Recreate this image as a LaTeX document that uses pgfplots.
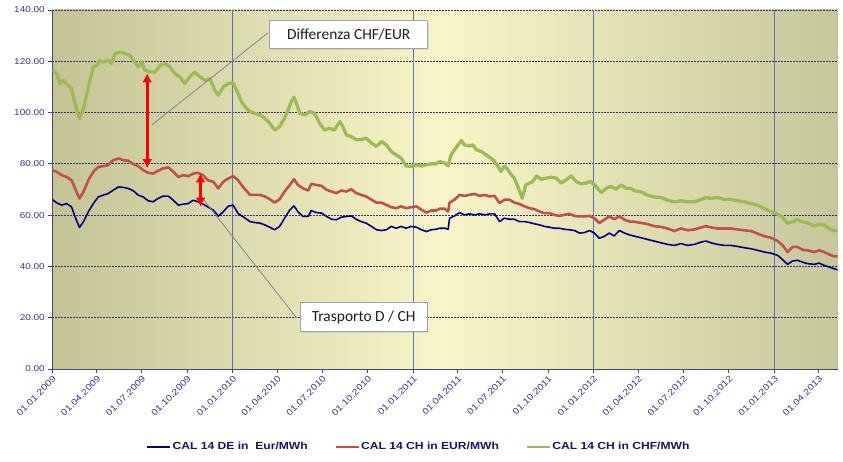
\documentclass[border=0pt]{standalone}
\usepackage{pgfplots}
\pgfplotsset{compat=1.18}
\usepackage{fontspec}
\setmainfont{Liberation Sans}[FakeStretch=1.18]
\newfontfamily\calloutfont{Carlito}
\usetikzlibrary{arrows.meta,shadows}
\definecolor{tickblue}{RGB}{51,51,153}
\definecolor{legblue}{RGB}{20,20,110}
\definecolor{deblue}{RGB}{0,0,128}
\definecolor{chred}{RGB}{192,80,77}
\definecolor{chgreen}{RGB}{155,187,89}
\definecolor{bgdark}{RGB}{196,195,150}
\definecolor{bglight}{RGB}{248,246,200}
\definecolor{bgright}{RGB}{198,198,155}
\definecolor{gridh}{RGB}{50,50,110}
\definecolor{gridv}{RGB}{85,115,190}
\definecolor{axiscol}{RGB}{70,70,120}
\definecolor{boxborder}{RGB}{150,165,190}
\definecolor{leadline}{RGB}{120,135,155}

\pgfplotstableread{
day val
0 66.1
9 64.8
19 63.9
29 64.5
39 63.2
46 59.4
55 55.2
63 57.4
73 61.3
83 64.5
93 67.1
103 67.8
113 68.4
123 69.7
134 71.0
144 70.8
154 70.4
164 69.5
174 67.8
184 67.1
194 65.6
204 65.2
214 66.5
224 67.4
235 67.4
245 65.8
255 63.9
265 64.3
275 64.5
285 65.8
295 65.2
305 64.3
315 63.2
326 61.9
336 59.6
346 61.3
356 63.5
366 63.9
376 60.6
386 59.4
400 57.5
410 57.1
420 56.9
430 56.2
440 55.3
450 54.3
460 55.6
470 58.8
481 62.1
489 63.6
497 61.4
507 59.5
518 59.5
524 61.8
534 61.0
545 60.8
555 59.5
565 58.4
575 58.2
585 59.2
595 59.5
605 59.7
615 58.4
625 57.5
635 56.9
646 55.6
656 54.3
666 54.0
676 54.3
686 55.6
696 54.9
706 55.6
716 54.9
726 55.6
737 55.3
747 54.3
757 53.6
767 54.3
777 54.5
784 54.9
794 54.9
801 54.5
804 58.8
814 59.7
824 61.0
834 60.1
844 60.5
854 60.1
865 60.5
875 60.1
885 60.5
895 60.5
905 57.5
915 58.8
925 58.4
935 58.4
945 57.5
956 57.5
966 57.1
976 56.6
986 56.2
996 55.6
1006 55.3
1016 54.9
1026 54.9
1036 54.5
1046 54.3
1057 54.0
1067 53.0
1077 53.2
1087 54.0
1097 53.0
1107 51.0
1117 51.7
1127 53.0
1137 51.9
1148 54.0
1158 53.0
1168 52.3
1178 51.8
1191 51.2
1205 50.5
1218 49.9
1232 49.2
1245 48.6
1259 48.2
1272 48.9
1286 48.2
1299 48.6
1313 49.5
1323 49.9
1333 49.2
1346 48.6
1360 48.2
1373 48.2
1387 47.8
1400 47.3
1414 46.9
1427 46.3
1441 45.6
1454 45.2
1468 44.3
1478 42.6
1488 40.8
1498 42.1
1508 42.4
1518 41.7
1528 41.1
1542 40.8
1552 41.3
1562 40.4
1572 39.8
1582 39.1
1589 38.7
}\deTable

\pgfplotstableread{
day val
0 77.5
9 76.9
19 75.6
29 74.9
39 73.6
46 70.4
55 66.5
63 69.1
73 73.6
83 76.9
93 78.8
103 79.1
113 79.5
123 81.4
134 82.1
144 81.4
154 81.2
164 79.9
174 79.1
184 77.5
194 76.5
204 76.2
214 77.3
224 78.2
235 78.6
245 76.9
255 74.9
265 75.6
275 75.2
285 76.2
295 76.5
305 75.6
315 73.6
326 73.0
336 70.4
346 73.0
356 74.3
366 75.2
376 73.6
386 71.0
400 67.9
410 67.9
420 67.9
430 67.3
440 66.2
450 64.9
460 66.2
470 69.2
481 71.8
489 74.0
497 71.8
507 70.5
518 69.6
524 72.2
534 71.8
545 71.4
555 69.9
565 69.2
575 68.6
585 69.6
595 69.2
605 70.1
615 68.6
625 67.9
635 67.3
646 66.0
656 64.9
666 64.9
676 64.0
686 63.1
696 62.7
706 63.4
716 62.7
726 63.1
737 63.4
747 62.1
757 61.0
767 61.8
777 61.8
784 62.5
794 62.5
801 61.4
804 64.9
814 66.0
824 67.9
834 67.5
844 67.9
854 68.3
865 67.5
875 67.9
885 67.3
895 67.5
905 64.7
915 66.0
925 66.0
935 64.9
945 64.4
956 63.4
966 62.7
976 62.3
986 61.4
996 60.8
1006 60.8
1016 60.1
1026 59.7
1036 60.1
1046 60.5
1057 59.7
1067 59.5
1077 59.5
1087 59.7
1097 58.8
1107 56.9
1117 58.2
1127 59.5
1137 58.4
1148 59.5
1158 58.2
1168 57.5
1178 57.4
1191 57.0
1205 56.5
1218 55.7
1232 55.4
1245 54.8
1259 53.8
1272 54.8
1286 54.1
1299 54.4
1313 55.2
1323 55.7
1333 55.2
1346 54.8
1360 54.8
1373 54.8
1387 54.4
1400 54.1
1414 53.8
1427 52.8
1441 51.8
1454 51.2
1468 49.9
1478 48.2
1488 45.6
1498 47.6
1508 47.6
1518 46.5
1528 46.3
1542 45.6
1552 46.3
1562 45.6
1572 44.7
1582 43.9
1589 43.9
}\cheurTable

\pgfplotstableread{
day val
0 116.5
9 115.2
16 111.3
22 112.6
32 110.6
39 109.4
46 103.5
55 97.7
63 101.6
70 107.4
76 112.6
83 117.8
90 118.4
96 120.4
103 119.7
113 120.4
120 119.1
127 123.0
137 123.6
147 123.0
157 122.3
167 119.7
174 117.8
181 119.7
187 116.5
198 115.8
208 115.8
218 118.4
228 119.1
238 117.8
248 115.2
258 113.9
268 111.3
278 113.9
288 115.8
299 113.9
309 112.6
319 113.2
329 108.7
336 106.8
346 110.0
356 111.3
366 111.6
373 108.7
383 104.2
393 101.6
400 100.4
410 99.7
420 99.1
430 97.8
440 95.8
450 93.2
460 94.5
470 97.8
477 101.0
484 104.3
489 106.0
494 103.6
501 99.7
511 99.1
521 100.4
531 99.7
541 95.8
551 93.2
561 93.9
571 93.2
582 96.5
588 94.5
595 91.3
605 90.6
615 89.4
625 89.4
635 90.0
646 88.1
656 86.8
666 88.7
676 87.4
686 84.8
696 83.5
706 82.2
716 79.2
726 79.0
737 79.6
747 79.2
757 79.6
767 80.0
777 80.0
784 80.9
794 80.3
801 79.2
807 83.5
814 85.5
821 87.4
828 89.1
834 87.4
844 87.0
851 87.4
858 85.5
868 84.8
878 83.5
888 82.2
895 80.9
902 79.0
908 77.0
915 79.2
922 77.7
929 75.7
935 74.4
942 71.2
951 66.6
958 71.8
966 72.5
972 73.1
980 75.3
989 74.0
999 74.4
1009 74.8
1020 74.4
1030 72.5
1040 73.8
1050 75.3
1060 73.1
1070 72.2
1080 72.5
1090 73.1
1100 71.2
1111 68.8
1121 70.5
1131 71.2
1141 70.1
1151 71.8
1161 70.5
1171 70.5
1178 69.5
1191 69.1
1205 67.8
1218 67.1
1232 66.9
1245 65.8
1259 65.2
1272 65.6
1286 65.2
1299 65.2
1313 66.1
1323 66.9
1333 66.5
1346 66.9
1360 66.1
1373 66.1
1387 65.6
1400 65.2
1414 64.5
1427 63.9
1441 62.6
1454 61.3
1468 60.4
1478 59.1
1488 56.8
1498 57.4
1508 58.3
1518 57.4
1528 57.0
1542 55.7
1552 56.5
1562 56.1
1572 54.8
1582 53.8
1589 54.1
}\chchfTable

\begin{document}
\begin{tikzpicture}
\begin{axis}[
  name=ax,
  width=785.7bp, height=359bp, scale only axis,
  xmin=0, xmax=1590, ymin=0, ymax=140,
  axis background/.style={left color=bgdark, right color=bgright, middle color=bglight},
  axis lines=left,
  axis line style={-, draw=axiscol, line width=0.8bp},
  x axis line style={-}, y axis line style={-},
  xtick={0,90,181,273,365,455,546,638,730,820,911,1003,1095,1186,1277,1369,1461,1551},
  xticklabels={01.01.2009,01.04.2009,01.07.2009,01.10.2009,01.01.2010,01.04.2010,01.07.2010,01.10.2010,01.01.2011,01.04.2011,01.07.2011,01.10.2011,01.01.2012,01.04.2012,01.07.2012,01.10.2012,01.01.2013,01.04.2013},
  ytick={0,20,40,60,80,100,120,140},
  tick align=outside, major tick length=4bp,
  tick style={draw=axiscol, line width=0.8bp},
  ymajorgrids=true,
  y grid style={gridh, dash pattern=on 2bp off 1bp, line width=0.8bp},
  x grid style={gridv, line width=1bp, solid},
  extra x ticks={365,730,1095,1461},
  extra x tick labels={},
  extra x tick style={xmajorgrids=true, major tick length=0pt,
     major grid style={gridv, line width=1bp, solid}},
  /pgf/number format/assume math mode=true,
  x tick label style={font=\fontsize{8.8}{10}\selectfont, text=tickblue, rotate=45, anchor=north east, inner sep=1.5bp},
  y tick label style={font=\fontsize{8.5}{10}\selectfont, text=tickblue,
     /pgf/number format/fixed, /pgf/number format/fixed zerofill, /pgf/number format/precision=2},
  legend columns=3,
  legend style={at={(0.12,-0.217)}, anchor=west, draw=none, fill=none,
     font=\bfseries\fontsize{10.3}{12}\selectfont, text=legblue, inner sep=0pt,
     nodes={inner xsep=1.5bp, inner ysep=1bp},
     /tikz/every even column/.append style={column sep=26bp}},
  legend image code/.code={\draw[#1, line width=1.3bp] (0bp,0bp) -- (23bp,0bp);},
  line join=round,
]
\addplot[deblue, line width=1.6bp] table[x=day, y=val] {\deTable};
\addlegendentry{CAL 14 DE in~ Eur/MWh}
\addplot[chred, line width=2.6bp] table[x=day, y=val] {\cheurTable};
\addlegendentry{CAL 14 CH in EUR/MWh}
\addplot[chgreen, line width=3.3bp] table[x=day, y=val] {\chchfTable};
\addlegendentry{CAL 14 CH in CHF/MWh}

\draw[leadline, line width=0.8bp] (axis cs:436,131) -- (axis cs:201.5,95.2);
\draw[leadline, line width=0.8bp] (axis cs:494.6,19.9) -- (axis cs:298.6,67.9);
\node[draw=boxborder, fill=white, line width=0.8bp, minimum width=158bp, minimum height=28bp, inner xsep=0pt,
  drop shadow={opacity=0.2, shadow xshift=1.5bp, shadow yshift=-1.5bp},
  font=\calloutfont\fontsize{15.5}{18}\selectfont, text={rgb,255:red,30;green,30;blue,30}]
  at (axis cs:599.8,130.3) {Differenza CHF/EUR};
\node[draw=boxborder, fill=white, line width=0.8bp, minimum width=126.6bp, minimum height=28.7bp, inner xsep=0pt,
  drop shadow={opacity=0.2, shadow xshift=1.5bp, shadow yshift=-1.5bp},
  font=\calloutfont\fontsize{15.5}{18}\selectfont, text={rgb,255:red,30;green,30;blue,30}]
  at (axis cs:630.1,20.2) {Trasporto D / CH};
\draw[red, line width=3bp, {Latex[width=10bp,length=9bp]}-{Latex[width=10bp,length=9bp]}] (axis cs:192,115.3) -- (axis cs:192,78.3);
\draw[red, line width=3bp, {Latex[width=10bp,length=9bp]}-{Latex[width=10bp,length=9bp]}] (axis cs:300,76.3) -- (axis cs:300,63.3);
\end{axis}
\pgfresetboundingbox
\path ([xshift=-52.3bp,yshift=-93bp]ax.south west) rectangle ([xshift=5bp,yshift=10bp]ax.north east);
\end{tikzpicture}
\end{document}
